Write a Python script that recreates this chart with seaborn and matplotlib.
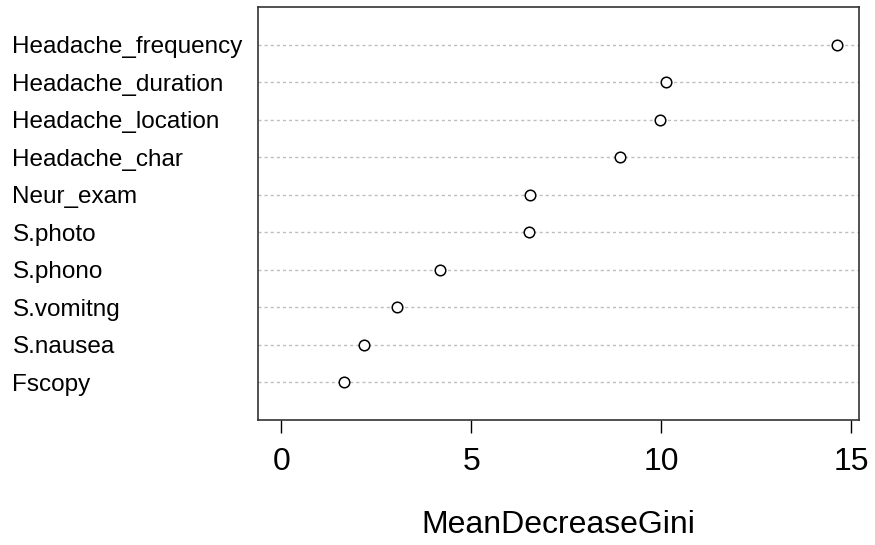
import matplotlib
matplotlib.use("Agg")
import matplotlib.pyplot as plt
import seaborn as sns
import pandas as pd

# Variable importance from the random forest model (sorted, most important first)
features = [
    "Headache_frequency", "Headache_duration", "Headache_location",
    "Headache_char", "Neur_exam", "S.photo", "S.phono", "S.vomitng",
    "S.nausea", "Fscopy",
]
gini = [14.62, 10.12, 9.95, 8.92, 6.55, 6.52, 4.17, 3.04, 2.17, 1.64]
x_ticks = [0, 5, 10, 15]
x_title = "MeanDecreaseGini"

df = pd.DataFrame({"feature": features, "gini": gini})

sns.set_theme(style="white")
plt.rcParams["font.family"] = ["Liberation Sans", "DejaVu Sans"]

fig = plt.figure(figsize=(8.75, 5.45), dpi=100)
ax = fig.add_axes([257.5 / 875, 1 - 420 / 545, (859 - 257.5) / 875, (420 - 7) / 545])

# dotted guide lines for each variable
for i in range(len(features)):
    ax.axhline(i, color="#bebebe", lw=1.0, ls=(0, (2.2, 2.2)), zorder=1)

sns.stripplot(data=df, x="gini", y="feature", order=features, jitter=False,
              marker="o", size=7.6, color="white", edgecolor="black",
              linewidth=1.1, ax=ax, zorder=3)

ax.set_xlim(-0.63, 15.2)
ax.set_ylim(len(features), -1)
ax.set_xticks(x_ticks)
ax.set_xticklabels([str(t) for t in x_ticks])
ax.set_xlabel(x_title, fontsize=23, color="black", labelpad=24)
ax.set_ylabel("")

ax.tick_params(axis="x", direction="out", length=9.4, width=1.0, color="black",
               labelsize=23, labelcolor="black", pad=10, bottom=True)
ax.tick_params(axis="y", length=0, labelsize=17.5, labelcolor="black", pad=176.4)
for lab in ax.get_yticklabels():
    lab.set_horizontalalignment("left")

for sp in ax.spines.values():
    sp.set_visible(True)
    sp.set_color("#333333")
    sp.set_linewidth(1.2)
ax.grid(False)

fig.savefig("out.png", dpi=100, facecolor="white")
